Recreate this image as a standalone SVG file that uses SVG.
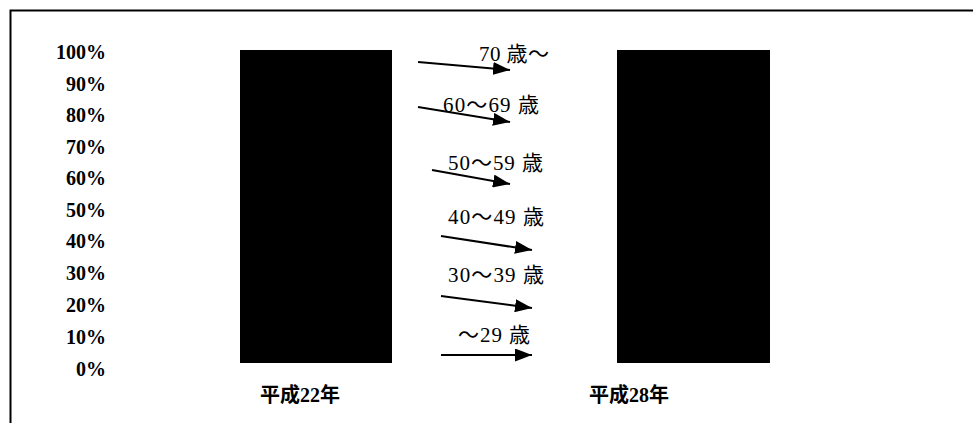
<svg xmlns="http://www.w3.org/2000/svg" width="973" height="423" viewBox="0 0 973 423">
<defs>
<style>
.ax{font-family:"Liberation Serif","Noto Sans CJK JP",serif;font-weight:bold;font-size:20px;fill:#000;text-anchor:end}
.yr{font-family:"Liberation Serif","Noto Sans CJK JP",serif;font-weight:bold;font-size:20px;fill:#000;text-anchor:middle}
.lb{font-family:"Liberation Serif","Noto Sans CJK JP",serif;font-size:21px;fill:#000}
.bar{fill:#000}
.arr{stroke:#000;stroke-width:2;fill:none;marker-end:url(#ah)}
.frame{stroke:#000;stroke-width:2;fill:none}
</style>
<marker id="ah" viewBox="0 0 17 13" refX="17" refY="6.5" markerWidth="17" markerHeight="13" markerUnits="userSpaceOnUse" orient="auto">
<path d="M0,0 L17,6.5 L0,13 z" fill="#000"/>
</marker>
</defs>
<rect width="973" height="423" fill="#fff"/>
<g id="frame">
<path class="frame" d="M10.5,423 V10.5 H973"/>
</g>
<g id="axis">
<text class="ax" x="106" y="59">100%</text>
<text class="ax" x="106" y="91">90%</text>
<text class="ax" x="106" y="122">80%</text>
<text class="ax" x="106" y="154">70%</text>
<text class="ax" x="106" y="185">60%</text>
<text class="ax" x="106" y="217">50%</text>
<text class="ax" x="106" y="248">40%</text>
<text class="ax" x="106" y="280">30%</text>
<text class="ax" x="106" y="312">20%</text>
<text class="ax" x="106" y="344">10%</text>
<text class="ax" x="106" y="376">0%</text>
</g>
<g id="bar-h22">
<rect class="bar" x="240" y="50" width="152" height="313"/>
<text class="yr" x="300" y="402">平成22年</text>
</g>
<g id="bar-h28">
<rect class="bar" x="617" y="50" width="153" height="313"/>
<text class="yr" x="629" y="402">平成28年</text>
</g>
<g id="connectors">
<line class="arr" x1="418" y1="62" x2="510" y2="70"/>
<line class="arr" x1="418" y1="107" x2="510" y2="122"/>
<line class="arr" x1="432" y1="170" x2="510" y2="184"/>
<line class="arr" x1="441" y1="236" x2="532" y2="250"/>
<line class="arr" x1="441" y1="296" x2="532" y2="308"/>
<line class="arr" x1="441" y1="355" x2="532" y2="355"/>
</g>
<g id="labels">
<text class="lb" x="479" y="61" textLength="70" lengthAdjust="spacing">70 歳〜</text>
<text class="lb" x="443" y="112" textLength="96" lengthAdjust="spacing">60〜69 歳</text>
<text class="lb" x="448" y="170" textLength="95" lengthAdjust="spacing">50〜59 歳</text>
<text class="lb" x="448" y="224" textLength="96" lengthAdjust="spacing">40〜49 歳</text>
<text class="lb" x="448" y="282" textLength="96" lengthAdjust="spacing">30〜39 歳</text>
<text class="lb" x="458" y="342" textLength="72" lengthAdjust="spacing">〜29 歳</text>
</g>
</svg>
